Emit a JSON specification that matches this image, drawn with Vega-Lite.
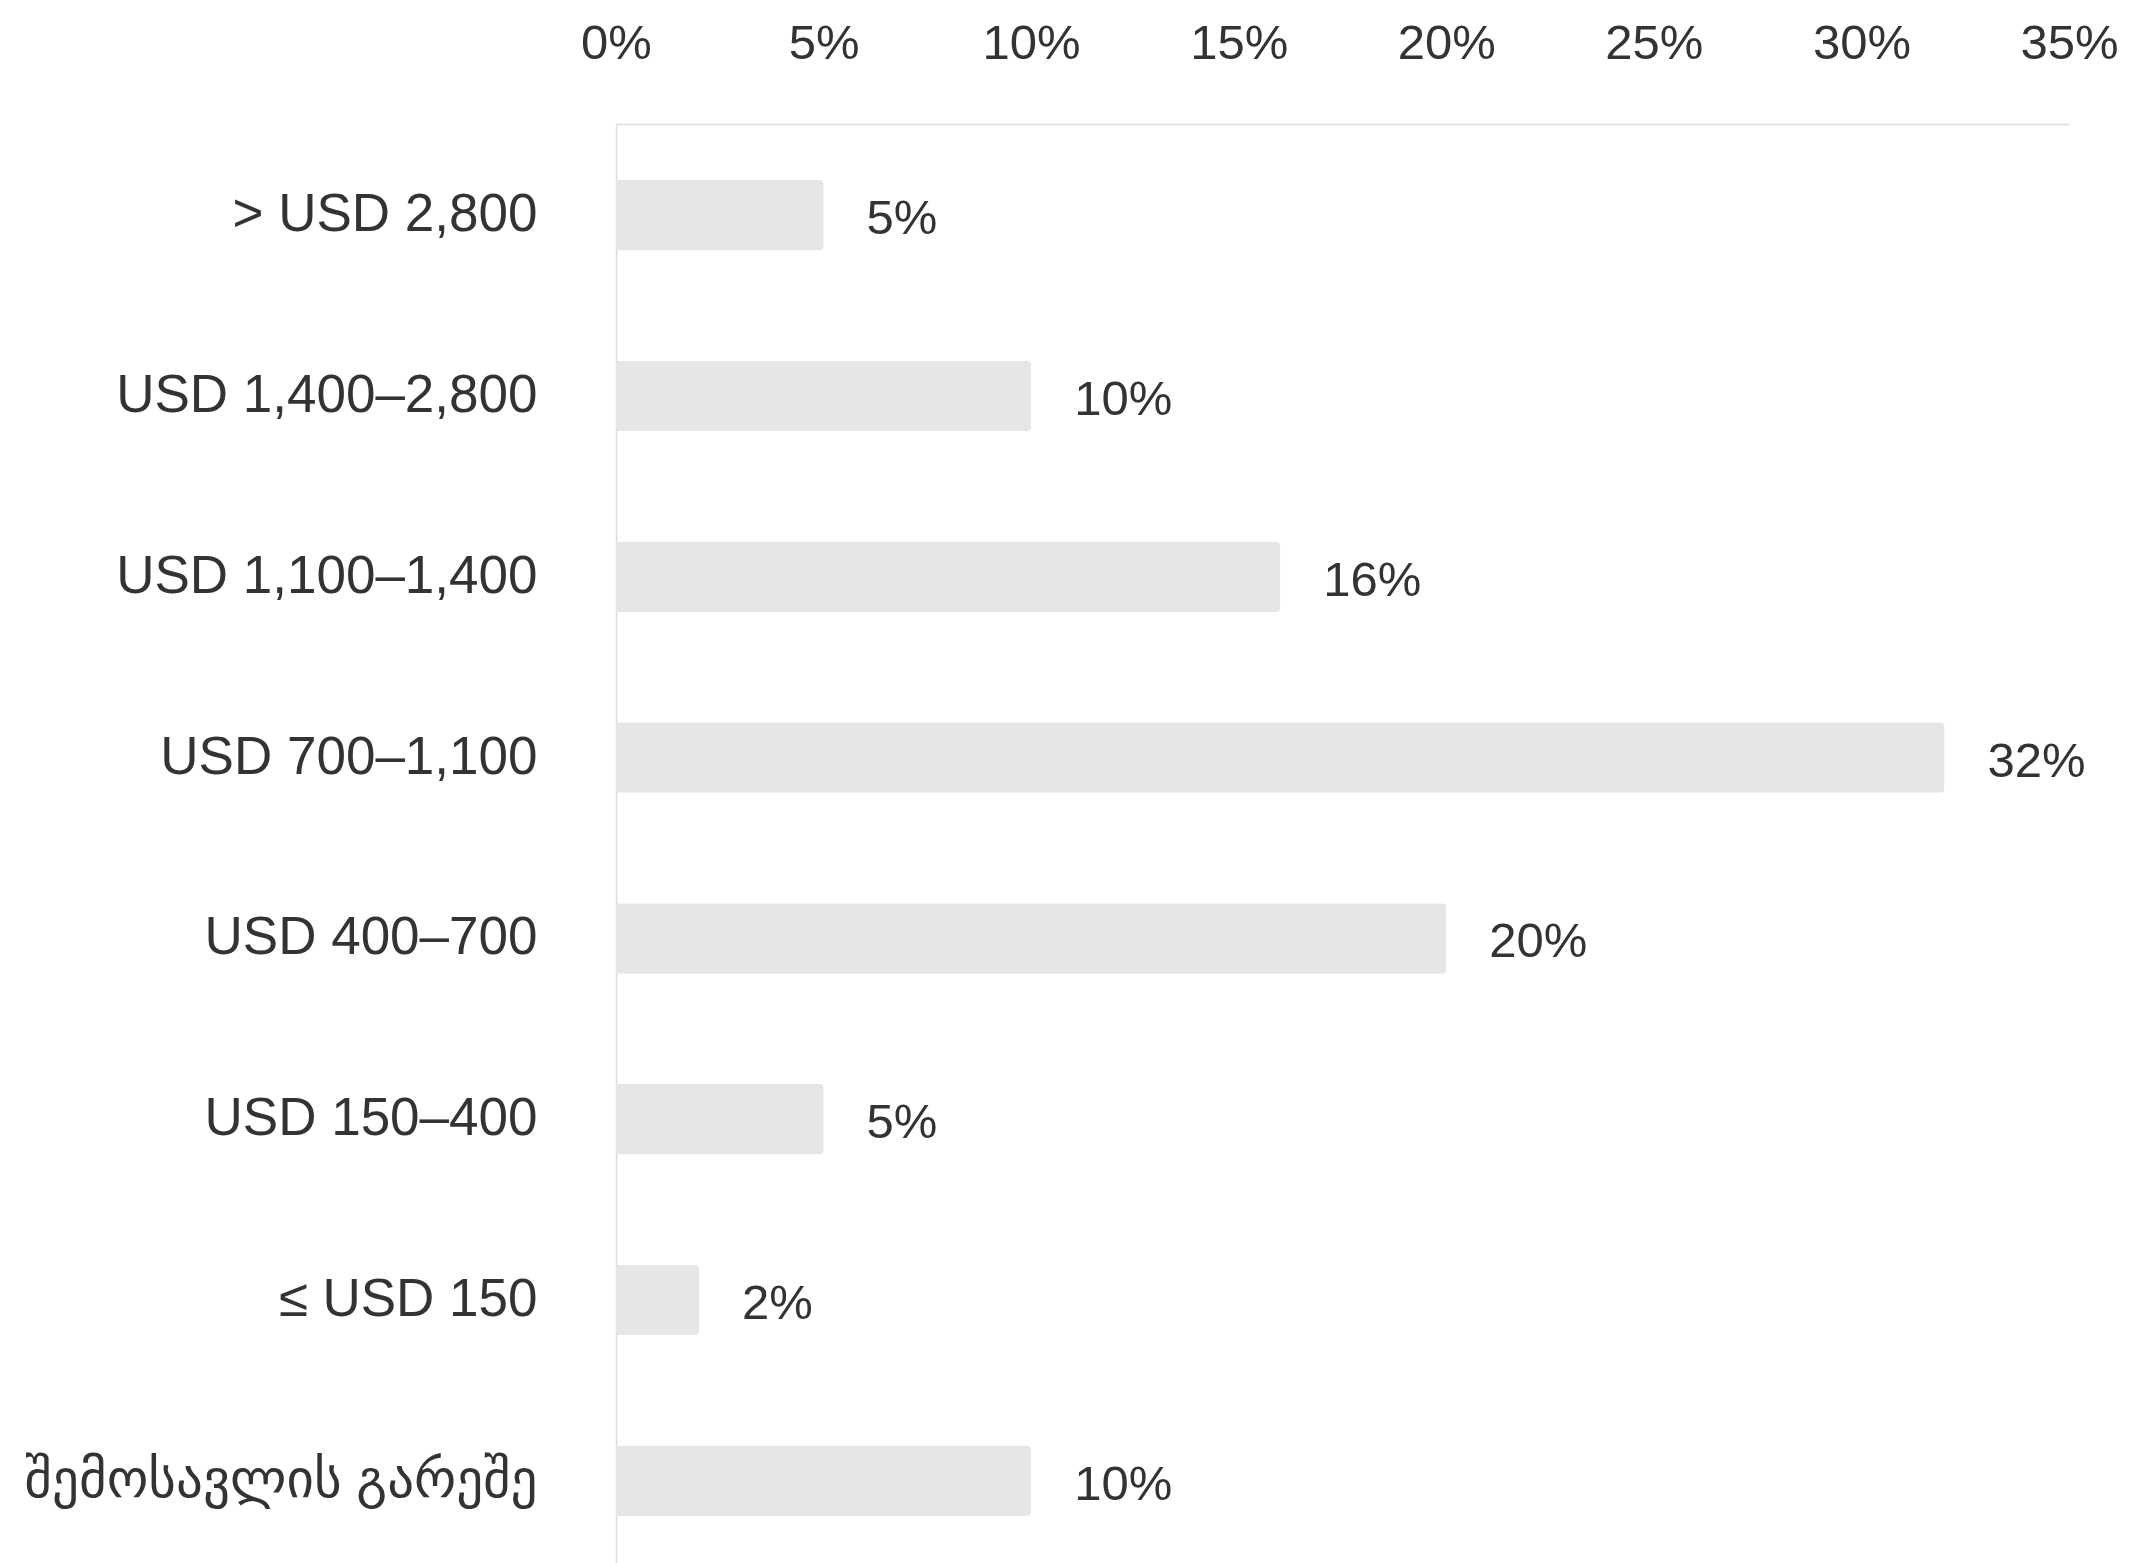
{
  "$schema": "https://vega.github.io/schema/vega-lite/v6.json",
  "autosize": {"type": "none"},
  "padding": {"left": 616, "top": 124, "right": 63, "bottom": 0},
  "width": 1453,
  "height": 1448,
  "background": "white",
  "config": {
    "view": {"stroke": null},
    "font": "Liberation Sans, DejaVu Sans"
  },
  "data": {
    "values": [
      {"cat": "> USD 2,800", "v": 5},
      {"cat": "USD 1,400–2,800", "v": 10},
      {"cat": "USD 1,100–1,400", "v": 16},
      {"cat": "USD 700–1,100", "v": 32},
      {"cat": "USD 400–700", "v": 20},
      {"cat": "USD 150–400", "v": 5},
      {"cat": "≤ USD 150", "v": 2},
      {"cat": "შემოსავლის გარეშე", "v": 10}
    ]
  },
  "encoding": {
    "y": {
      "field": "cat", "type": "nominal", "sort": null,
      "scale": {"paddingInner": 0.61, "paddingOuter": 0.31},
      "axis": {
        "title": null, "ticks": false, "domainColor": "#dddddd", "domainWidth": 1.5,
        "labelFontSize": 53, "labelColor": "#333333", "labelPadding": 79,
        "labelLimit": 700, "grid": false
      }
    }
  },
  "layer": [
    {
      "mark": {"type": "bar", "color": "#e6e6e6", "cornerRadiusEnd": 4, "height": {"band": 1}},
      "encoding": {
        "x": {
          "field": "v", "type": "quantitative",
          "scale": {"domain": [0, 35], "nice": false},
          "axis": {
            "orient": "top", "title": null, "values": [0, 5, 10, 15, 20, 25, 30, 35],
            "labelExpr": "datum.value + '%'", "ticks": false, "grid": false,
            "domainColor": "#dddddd", "domainWidth": 1.5,
            "labelFontSize": 49, "labelColor": "#333333", "labelPadding": 56,
            "labelFlush": false, "labelOverlap": false
          }
        }
      }
    },
    {
      "mark": {"type": "text", "align": "left", "baseline": "middle", "dx": 43, "dy": 4, "fontSize": 49, "color": "#333333"},
      "encoding": {
        "x": {"field": "v", "type": "quantitative"},
        "text": {"field": "label", "type": "nominal"}
      },
      "transform": [{"calculate": "datum.v + '%'", "as": "label"}]
    }
  ]
}
